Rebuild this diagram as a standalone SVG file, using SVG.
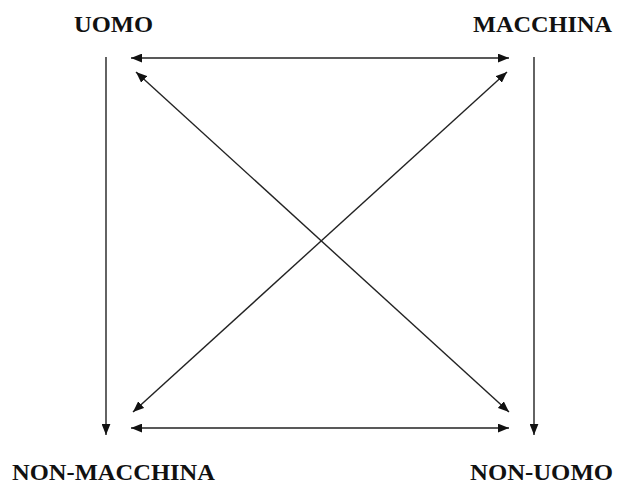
<svg xmlns="http://www.w3.org/2000/svg" width="617" height="484" viewBox="0 0 617 484">
<style>
.lbl{font-family:"Liberation Serif","Times New Roman",serif;font-weight:bold;font-size:23px;fill:#111}
.ln{stroke:#222;stroke-width:1.4;fill:none}
</style>
<defs>
<marker id="ah" viewBox="0 0 10 8" refX="10" refY="4" markerWidth="11" markerHeight="9" markerUnits="userSpaceOnUse" orient="auto-start-reverse">
<path d="M0,0 L10,4 L0,8 Z" fill="#111"/>
</marker>
</defs>
<rect width="617" height="484" fill="#fff"/>
<g id="uomo"><text class="lbl" x="74" y="32" textLength="79" lengthAdjust="spacingAndGlyphs">UOMO</text></g>
<g id="macchina"><text class="lbl" x="473" y="32" textLength="139" lengthAdjust="spacingAndGlyphs">MACCHINA</text></g>
<g id="non-macchina"><text class="lbl" x="12" y="480" textLength="203" lengthAdjust="spacingAndGlyphs">NON-MACCHINA</text></g>
<g id="non-uomo"><text class="lbl" x="470" y="480" textLength="143" lengthAdjust="spacingAndGlyphs">NON-UOMO</text></g>
<g id="connectors">
<line class="ln" x1="131" y1="58" x2="509" y2="58" marker-start="url(#ah)" marker-end="url(#ah)"/>
<line class="ln" x1="131" y1="428" x2="509" y2="428" marker-start="url(#ah)" marker-end="url(#ah)"/>
<line class="ln" x1="106" y1="57" x2="106" y2="435" marker-end="url(#ah)"/>
<line class="ln" x1="534" y1="57" x2="534" y2="435" marker-end="url(#ah)"/>
<line class="ln" x1="136" y1="72" x2="509" y2="412" marker-start="url(#ah)" marker-end="url(#ah)"/>
<line class="ln" x1="507" y1="72" x2="133" y2="412" marker-start="url(#ah)" marker-end="url(#ah)"/>
</g>
</svg>
